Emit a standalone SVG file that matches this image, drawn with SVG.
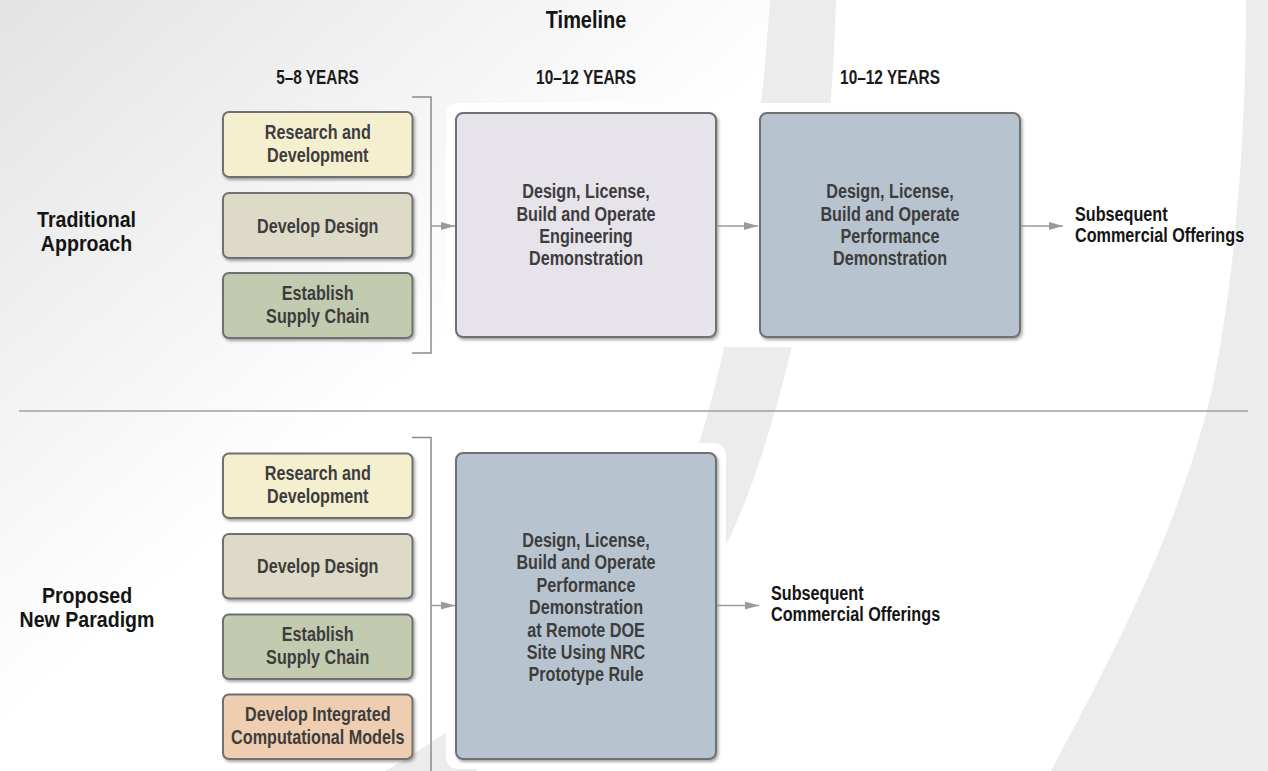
<svg xmlns="http://www.w3.org/2000/svg" width="1268" height="771" viewBox="0 0 1268 771">
<defs>
<linearGradient id="bgGrad" gradientUnits="userSpaceOnUse" x1="0" y1="0" x2="360" y2="420">
<stop offset="0" stop-color="#e3e3e3"/>
<stop offset="1" stop-color="#ffffff"/>
</linearGradient>
<filter id="shadow" x="-10%" y="-10%" width="130%" height="130%">
<feDropShadow dx="1.5" dy="2" stdDeviation="1.5" flood-color="#000" flood-opacity="0.35"/>
</filter>
<marker id="ah" markerWidth="14" markerHeight="8" refX="14" refY="4" orient="auto" markerUnits="userSpaceOnUse">
<path d="M0,0 L14,4 L0,8 z" fill="#9a9a9a"/>
</marker>
<style>
.t{font-family:"Liberation Sans",Arial,sans-serif;font-weight:bold;text-anchor:middle}
.ttl{fill:#141414;font-size:24px}
.lbl{fill:#141414;font-size:22px}
.hdr{fill:#1a1a1a;font-size:20px}
.bx{fill:#3d3d3d;font-size:21px}
.sub{font-family:"Liberation Sans",Arial,sans-serif;font-weight:bold;fill:#141414;font-size:20px}
.box{stroke:#6f6f6f;stroke-width:2;filter:url(#shadow)}
.rd{fill:#f4efcf}
.dd{fill:#dddac7}
.es{fill:#c2cbb0}
.dic{fill:#efcdb0}
.eng{fill:#e6e3ea}
.perf{fill:#b7c4cf}
.conn{stroke:#9a9a9a;stroke-width:1.5;fill:none}
.brk{stroke:#8a8a8a;stroke-width:1.5;fill:none}
</style>
</defs>

<g id="background">
<rect x="0" y="0" width="1268" height="771" fill="url(#bgGrad)"/>
<path d="M770,0 C760,150 735,330 700,440 C660,560 540,680 385,771 L475,771 C600,690 700,600 731,535 C770,450 830,250 836,0 Z" fill="#ececec"/>
<path d="M1246,0 C1246,100 1240,250 1213,385 C1180,530 1110,660 1051,771 L1268,771 L1268,0 Z" fill="#ececec"/>
<rect x="446" y="103" width="584" height="244" rx="12" fill="#ffffff"/>
<rect x="446" y="443" width="280" height="326" rx="12" fill="#ffffff"/>
</g>

<g id="headers">
<text class="t ttl" transform="translate(586 0) scale(0.83 1)"><tspan x="0" y="28">Timeline</tspan></text>
<text class="t hdr" transform="translate(317.5 0) scale(0.77 1)"><tspan x="0" y="84">5–8 YEARS</tspan></text>
<text class="t hdr" transform="translate(586 0) scale(0.77 1)"><tspan x="0" y="84">10–12 YEARS</tspan></text>
<text class="t hdr" transform="translate(890 0) scale(0.77 1)"><tspan x="0" y="84">10–12 YEARS</tspan></text>
</g>

<g id="divider">
<line x1="19" y1="411" x2="1248" y2="411" stroke="#a0a0a0" stroke-width="1.5"/>
</g>

<g id="label-traditional">
<text class="t lbl" transform="translate(86.5 0) scale(0.89 1)"><tspan x="0" y="227.5">Traditional</tspan><tspan x="0" y="251">Approach</tspan></text>
</g>
<g id="label-proposed">
<text class="t lbl" transform="translate(87 0) scale(0.89 1)"><tspan x="0" y="603.5">Proposed</tspan><tspan x="0" y="627">New Paradigm</tspan></text>
</g>

<g id="t-rd">
<rect class="box rd" x="223" y="112" width="189.5" height="65" rx="6"/>
<text class="t bx" transform="translate(317.75 0) scale(0.77 1)"><tspan x="0" y="139.3">Research and</tspan><tspan x="0" y="161.7">Development</tspan></text>
</g>
<g id="t-dd">
<rect class="box dd" x="223" y="193" width="189.5" height="65" rx="6"/>
<text class="t bx" transform="translate(317.75 0) scale(0.77 1)"><tspan x="0" y="233">Develop Design</tspan></text>
</g>
<g id="t-es">
<rect class="box es" x="223" y="273" width="189.5" height="65" rx="6"/>
<text class="t bx" transform="translate(317.75 0) scale(0.77 1)"><tspan x="0" y="300.3">Establish</tspan><tspan x="0" y="322.7">Supply Chain</tspan></text>
</g>
<g id="t-eng">
<rect class="box eng" x="456" y="113" width="260" height="224" rx="7"/>
<text class="t bx" transform="translate(586 0) scale(0.77 1)"><tspan x="0" y="198.3">Design, License,</tspan><tspan x="0" y="220.7">Build and Operate</tspan><tspan x="0" y="243.1">Engineering</tspan><tspan x="0" y="265.5">Demonstration</tspan></text>
</g>
<g id="t-perf">
<rect class="box perf" x="760" y="113" width="260" height="224" rx="7"/>
<text class="t bx" transform="translate(890 0) scale(0.77 1)"><tspan x="0" y="198.3">Design, License,</tspan><tspan x="0" y="220.7">Build and Operate</tspan><tspan x="0" y="243.1">Performance</tspan><tspan x="0" y="265.5">Demonstration</tspan></text>
</g>
<g id="t-sub">
<text class="sub" transform="translate(1075 0) scale(0.81 1)"><tspan x="0" y="221">Subsequent</tspan><tspan x="0" y="242">Commercial Offerings</tspan></text>
</g>

<g id="p-rd">
<rect class="box rd" x="223" y="453.5" width="189.5" height="64.5" rx="6"/>
<text class="t bx" transform="translate(317.75 0) scale(0.77 1)"><tspan x="0" y="480.5">Research and</tspan><tspan x="0" y="503">Development</tspan></text>
</g>
<g id="p-dd">
<rect class="box dd" x="223" y="534" width="189.5" height="64.5" rx="6"/>
<text class="t bx" transform="translate(317.75 0) scale(0.77 1)"><tspan x="0" y="573.5">Develop Design</tspan></text>
</g>
<g id="p-es">
<rect class="box es" x="223" y="614.5" width="189.5" height="64.5" rx="6"/>
<text class="t bx" transform="translate(317.75 0) scale(0.77 1)"><tspan x="0" y="641.3">Establish</tspan><tspan x="0" y="663.7">Supply Chain</tspan></text>
</g>
<g id="p-dic">
<rect class="box dic" x="223" y="694.5" width="189.5" height="64.5" rx="6"/>
<text class="t bx" transform="translate(317.75 0) scale(0.77 1)"><tspan x="0" y="721.3">Develop Integrated</tspan><tspan x="0" y="743.7">Computational Models</tspan></text>
</g>
<g id="p-perf">
<rect class="box perf" x="456" y="453" width="260" height="306" rx="7"/>
<text class="t bx" transform="translate(586 0) scale(0.77 1)"><tspan x="0" y="547">Design, License,</tspan><tspan x="0" y="569.4">Build and Operate</tspan><tspan x="0" y="591.8">Performance</tspan><tspan x="0" y="614.2">Demonstration</tspan><tspan x="0" y="636.6">at Remote DOE</tspan><tspan x="0" y="659">Site Using NRC</tspan><tspan x="0" y="681.4">Prototype Rule</tspan></text>
</g>
<g id="p-sub">
<text class="sub" transform="translate(771 0) scale(0.81 1)"><tspan x="0" y="600.5">Subsequent</tspan><tspan x="0" y="621.5">Commercial Offerings</tspan></text>
</g>

<g id="connectors">
<path class="brk" d="M412,97 H431 V353 H412"/>
<path class="brk" d="M412,437.5 H431 V771"/>
<line class="conn" x1="431" y1="226" x2="455" y2="226" marker-end="url(#ah)"/>
<line class="conn" x1="717" y1="226" x2="758" y2="226" marker-end="url(#ah)"/>
<line class="conn" x1="1021" y1="226" x2="1063" y2="226" marker-end="url(#ah)"/>
<line class="conn" x1="431" y1="605.5" x2="455" y2="605.5" marker-end="url(#ah)"/>
<line class="conn" x1="717" y1="605.5" x2="759" y2="605.5" marker-end="url(#ah)"/>
</g>
</svg>
